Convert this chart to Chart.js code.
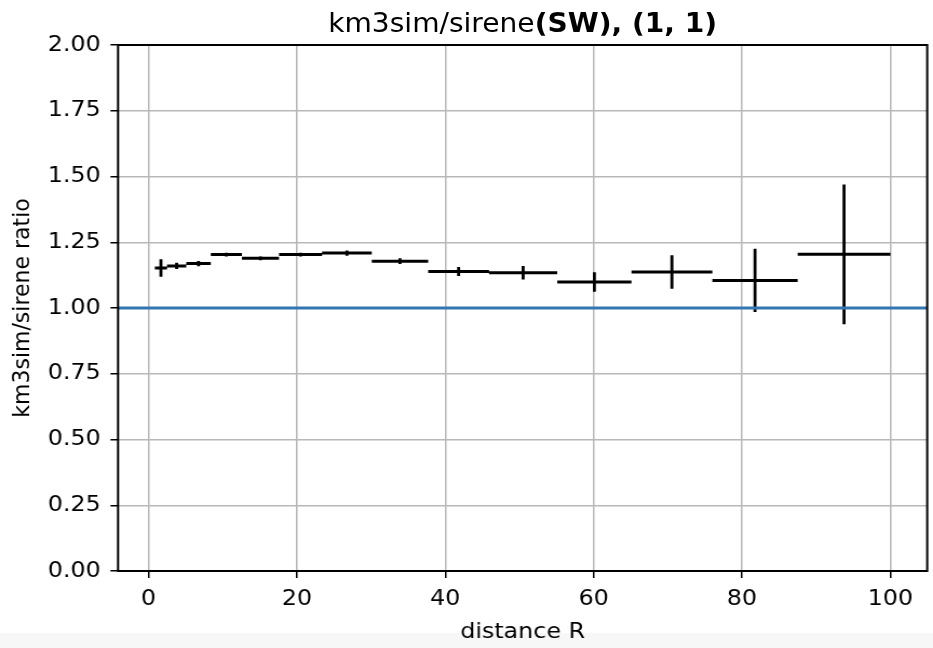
<!DOCTYPE html>
<html>
<head>
<meta charset="utf-8">
<script src="https://cdn.jsdelivr.net/npm/chart.js@4.4.1/dist/chart.umd.min.js"></script>
<style>
  html, body { margin: 0; padding: 0; background: #fff; }
  #wrap { position: relative; width: 933px; height: 648px; overflow: hidden; }
  /* the reference figure is stretched a little in width, so the inner box is drawn narrower and scaled */
  #inner { position: absolute; left: 0; top: 0; width: 864px; height: 648px;
           transform: scaleX(1.0799); transform-origin: 0 0; }
  #strip { position: absolute; left: 0; bottom: 0; width: 864px; height: 15px; background: #f7f7f7; }
  #title { position: absolute; left: 109px; width: 750px; top: 8px; text-align: center;
           font-family: 'DejaVu Sans'; font-size: 26px; line-height: 30px; color: #000; white-space: nowrap; }
  canvas { position: absolute; left: 0; top: 0; width: 864px; height: 648px; }
</style>
</head>
<body>
<div id="wrap">
  <div id="inner">
    <div id="strip"></div>
    <canvas id="chart" width="864" height="648" style="width:864px;height:648px"></canvas>
    <div id="title">km3sim/sirene<b>(SW), (1, 1)</b></div>
  </div>
</div>
<script>
// bins of distance R (edges)
const binLow  = [0.86, 2.5, 5.1, 8.4, 12.6, 17.6, 23.4, 30.1, 37.7, 45.9, 55.1, 65.1, 76.0, 87.5];
const binHigh = [2.5, 5.1, 8.4, 12.6, 17.6, 23.4, 30.1, 37.7, 45.9, 55.1, 65.1, 76.0, 87.5, 100];
// km3sim/sirene ratio and its error
const ratio    = [1.152, 1.160, 1.169, 1.203, 1.189, 1.203, 1.209, 1.178, 1.139, 1.134, 1.099, 1.137, 1.105, 1.204];
const ratioErr = [0.033, 0.012, 0.010, 0.007, 0.007, 0.007, 0.010, 0.011, 0.017, 0.026, 0.037, 0.064, 0.120, 0.266];
const refLevel = 1.0;

const xTicks = [0, 20, 40, 60, 80, 100];
const yTicks = [0, 0.25, 0.5, 0.75, 1.0, 1.25, 1.5, 1.75, 2.0];
const xMin = -4.1, xMax = 104.96;
const yMin = 0, yMax = 2;

// build the error bar segments, null points break the line
const hBars = [];
const vBars = [];
binLow.forEach((lo, i) => {
    const hi = binHigh[i];
    const mid = (lo + hi) / 2;
    hBars.push({x: lo, y: ratio[i]}, {x: hi, y: ratio[i]}, {x: mid, y: null});
    vBars.push({x: mid, y: ratio[i] - ratioErr[i]}, {x: mid, y: ratio[i] + ratioErr[i]}, {x: mid, y: null});
});

// frame around the plot area (matplotlib spines)
const frame = {
    id: 'frame',
    afterDatasetsDraw(chart) {
        const a = chart.chartArea;
        const ctx = chart.ctx;
        ctx.save();
        ctx.strokeStyle = '#000';
        ctx.lineWidth = 2;
        ctx.strokeRect(a.left, a.top, a.right - a.left, a.bottom - a.top);
        ctx.restore();
    }
};

Chart.defaults.font.family = 'DejaVu Sans';
Chart.defaults.font.size = 22;
Chart.defaults.color = '#000';

const ctx = document.getElementById('chart').getContext('2d');
new Chart(ctx, {
    type: 'scatter',
    data: {
        datasets: [
            {
                data: [{x: xMin, y: refLevel}, {x: xMax, y: refLevel}],
                showLine: true,
                borderColor: '#3476b2',
                borderWidth: 3,
                pointRadius: 0
            },
            {
                data: hBars,
                showLine: true,
                borderColor: '#000',
                borderWidth: 3,
                pointRadius: 0
            },
            {
                data: vBars,
                showLine: true,
                borderColor: '#000',
                borderWidth: 2.8,
                pointRadius: 0
            }
        ]
    },
    options: {
        responsive: false,
        animation: false,
        devicePixelRatio: 1,
        layout: { padding: { top: 45, right: 5.4, left: 0, bottom: 0 } },
        plugins: { legend: { display: false }, tooltip: { enabled: false } },
        scales: {
            x: {
                type: 'linear',
                min: xMin,
                max: xMax,
                afterBuildTicks: scale => { scale.ticks = xTicks.map(v => ({value: v})); },
                afterFit: scale => { scale.height = 77; },
                grid: { color: '#b8b8b8', lineWidth: 1.5, tickColor: '#000', tickLength: 7, tickWidth: 1.5 },
                border: { display: false },
                ticks: { padding: 8, maxRotation: 0, callback: v => String(v) },
                title: { display: true, text: 'distance R', padding: { top: 0, bottom: 3 } }
            },
            y: {
                type: 'linear',
                min: yMin,
                max: yMax,
                afterBuildTicks: scale => { scale.ticks = yTicks.map(v => ({value: v})); },
                afterFit: scale => { scale.width = 109.3; },
                grid: { color: '#b8b8b8', lineWidth: 1.5, tickColor: '#000', tickLength: 7, tickWidth: 1.5 },
                border: { display: false },
                ticks: { padding: 9, callback: v => v.toFixed(2) },
                title: { display: true, text: 'km3sim/sirene ratio', padding: { top: 8, bottom: 0 } }
            }
        }
    },
    plugins: [frame]
});
</script>
</body>
</html>
